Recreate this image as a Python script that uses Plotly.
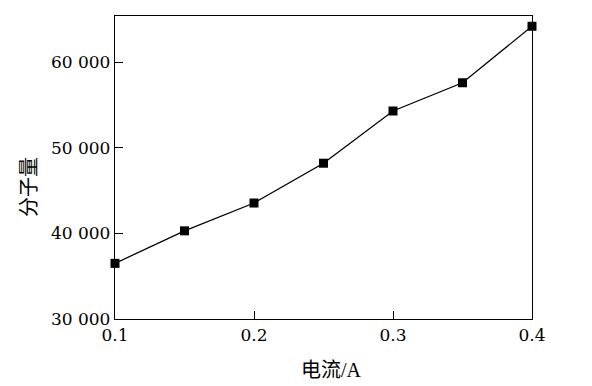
import plotly.graph_objects as go

current = [0.1, 0.15, 0.2, 0.25, 0.3, 0.35, 0.4]
mol_weight = [36500, 40300, 43550, 48200, 54300, 57600, 64200]

x_ticks = [0.1, 0.2, 0.3, 0.4]
x_ticktext = ["0.1", "0.2", "0.3", "0.4"]
y_ticks = [30000, 40000, 50000, 60000]
y_ticktext = ["30 000", "40 000", "50 000", "60 000"]

FONT = "DejaVu Serif"
CJK = "'Liberation Serif', 'Noto Sans CJK SC'"

fig = go.Figure()
fig.add_trace(go.Scatter(
    x=current, y=mol_weight, mode="lines+markers",
    line=dict(color="black", width=1.3),
    marker=dict(symbol="square", size=9, color="black"),
    showlegend=False, cliponaxis=False,
))

def axis(ticks, text, rng):
    return dict(
        range=rng, tickmode="array", tickvals=ticks, ticktext=text,
        showgrid=False, zeroline=False, showline=True, linecolor="black", linewidth=1.3,
        mirror=True, ticks="inside", ticklen=8, tickwidth=1, tickcolor="black",
        tickfont=dict(family=FONT, size=17, color="black"),
    )

fig.update_layout(
    width=592, height=386,
    font=dict(family=FONT, size=17, color="black"),
    margin=dict(l=115, r=60, t=16, b=67),
    paper_bgcolor="white", plot_bgcolor="white",
    xaxis=axis(x_ticks, x_ticktext, [0.1, 0.4]),
    yaxis=axis(y_ticks, y_ticktext, [30000, 65400]),
)

fig.add_annotation(text="电流/A", xref="paper", yref="paper", x=0.518, y=-0.168,
                   xanchor="center", yanchor="middle", showarrow=False,
                   font=dict(family=CJK, size=20, color="black"))
fig.add_annotation(text="分子量", xref="paper", yref="paper", x=-0.206, y=0.436,
                   xanchor="center", yanchor="middle", showarrow=False, textangle=-90,
                   font=dict(family=CJK, size=20, color="black"))

fig.write_html("out.html")
